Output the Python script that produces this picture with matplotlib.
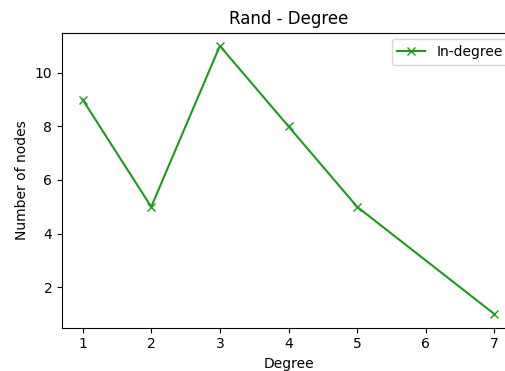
import matplotlib
matplotlib.use("Agg")
import matplotlib.pyplot as plt

degrees = [1, 2, 3, 4, 5, 7]
in_degree_counts = [9, 5, 11, 8, 5, 1]

fig = plt.figure(figsize=(5.06, 3.71), dpi=100)
ax = fig.add_axes([62/506, 1 - 327.5/371, (515 - 62)/506, (327.5 - 32.5)/371])
ax.plot(degrees, in_degree_counts, color='#1f9a1f', marker='x', label='In-degree')
ax.set_title('Rand - Degree')
ax.set_xlabel('Degree')
ax.set_ylabel('Number of nodes')
ax.spines['right'].set_visible(False)
ax.legend(loc='upper right')
fig.savefig('out.png', dpi=100)
